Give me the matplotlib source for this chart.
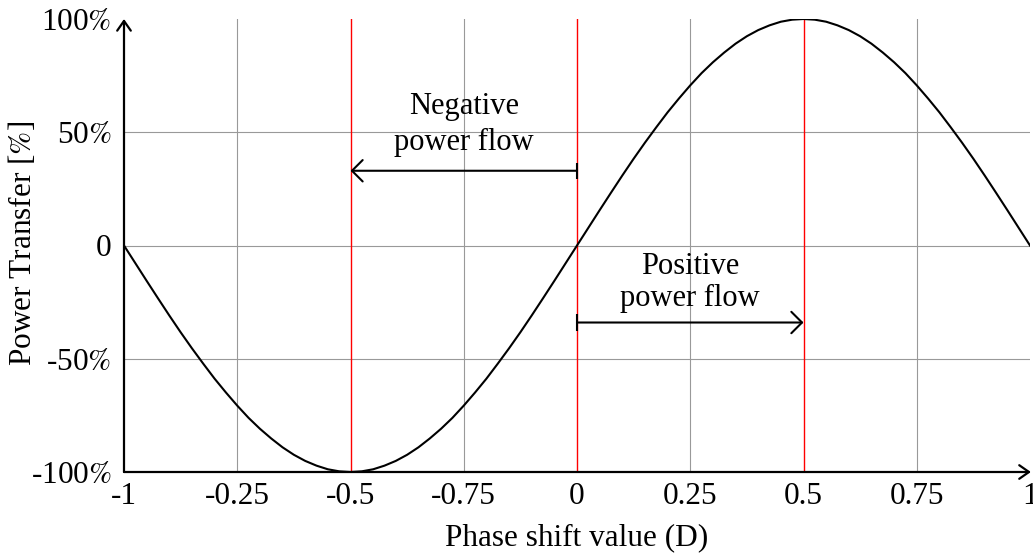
import matplotlib
matplotlib.use("Agg")
import matplotlib.pyplot as plt

plt.rcParams['font.family'] = ['Liberation Serif', 'DejaVu Serif']
plt.rcParams['mathtext.fontset'] = 'stix'

# Phase shift D (steps of 0.025) and transferred power in percent of maximum
phase_shift = [
    -1.000, -0.975, -0.950, -0.925, -0.900, -0.875, -0.850, -0.825, -0.800, -0.775,
    -0.750, -0.725, -0.700, -0.675, -0.650, -0.625, -0.600, -0.575, -0.550, -0.525,
    -0.500, -0.475, -0.450, -0.425, -0.400, -0.375, -0.350, -0.325, -0.300, -0.275,
    -0.250, -0.225, -0.200, -0.175, -0.150, -0.125, -0.100, -0.075, -0.050, -0.025,
    0.000, 0.025, 0.050, 0.075, 0.100, 0.125, 0.150, 0.175, 0.200, 0.225,
    0.250, 0.275, 0.300, 0.325, 0.350, 0.375, 0.400, 0.425, 0.450, 0.475,
    0.500, 0.525, 0.550, 0.575, 0.600, 0.625, 0.650, 0.675, 0.700, 0.725,
    0.750, 0.775, 0.800, 0.825, 0.850, 0.875, 0.900, 0.925, 0.950, 0.975, 1.000]
power_pct = [
    0.0, -7.8, -15.6, -23.3, -30.9, -38.3, -45.4, -52.2, -58.8, -64.9,
    -70.7, -76.1, -80.9, -85.2, -89.1, -92.4, -95.1, -97.2, -98.8, -99.7,
    -100.0, -99.7, -98.8, -97.2, -95.1, -92.4, -89.1, -85.2, -80.9, -76.1,
    -70.7, -64.9, -58.8, -52.2, -45.4, -38.3, -30.9, -23.3, -15.6, -7.8,
    0.0, 7.8, 15.6, 23.3, 30.9, 38.3, 45.4, 52.2, 58.8, 64.9,
    70.7, 76.1, 80.9, 85.2, 89.1, 92.4, 95.1, 97.2, 98.8, 99.7,
    100.0, 99.7, 98.8, 97.2, 95.1, 92.4, 89.1, 85.2, 80.9, 76.1,
    70.7, 64.9, 58.8, 52.2, 45.4, 38.3, 30.9, 23.3, 15.6, 7.8, 0.0]

x_ticks = [-1, -0.75, -0.5, -0.25, 0, 0.25, 0.5, 0.75, 1]
x_tick_labels = ['-1', '-0.25', '-0.5', '-0.75', '0', '0.25', '0.5', '0.75', '1']
y_ticks = [-100, -50, 0, 50, 100]
pct = r'$\mathit{\%}$'
y_tick_labels = ['-100' + pct, '-50' + pct, '0', '50' + pct, '100' + pct]

gray_grid_x = [-0.75, -0.25, 0.25, 0.75]
red_lines_x = [-0.5, 0, 0.5]
grid_y = [-50, 0, 50]

neg_arrow = {'from': 0.0, 'to': -0.5, 'level': 33}
pos_arrow = {'from': 0.0, 'to': 0.5, 'level': -34}

FS = 22.5

fig = plt.figure(figsize=(10.33, 5.53), dpi=100)
ax = fig.add_axes([124 / 1033, 81 / 553, 906 / 1033, 453 / 553])
ax.set_xlim(-1, 1)
ax.set_ylim(-100, 100)

for s in ax.spines.values():
    s.set_visible(False)

for gx in gray_grid_x:
    ax.axvline(gx, color='#999999', lw=0.8, zorder=1)
for gy in grid_y:
    ax.axhline(gy, color='#999999', lw=0.8, zorder=1)
for rx in red_lines_x:
    ax.axvline(rx, color='#ff0000', lw=1.0, zorder=2)

ax.plot(phase_shift, power_pct, color='black', lw=1.5, zorder=3,
        solid_joinstyle='round')

# Axis lines with arrow tips
arrow_kw = dict(arrowstyle='->,head_length=0.5,head_width=0.35', color='black',
                lw=1.6, shrinkA=0, shrinkB=0, mutation_scale=14)
ax.annotate('', xy=(0, 1), xytext=(0, 0), xycoords='axes fraction',
            textcoords='axes fraction', arrowprops=arrow_kw,
            annotation_clip=False, zorder=5)
ax.annotate('', xy=(1.001, 0), xytext=(0, 0), xycoords='axes fraction',
            textcoords='axes fraction', arrowprops=arrow_kw,
            annotation_clip=False, zorder=5)

ax.set_xticks(x_ticks)
ax.set_xticklabels(x_tick_labels)
ax.set_yticks(y_ticks)
ax.set_yticklabels(y_tick_labels)
ax.tick_params(axis='both', length=0, labelsize=FS)
ax.tick_params(axis='x', pad=7.5)
ax.tick_params(axis='y', pad=9)

# Axis titles
fig.text(577 / 1033, 1 - 545 / 553, 'Phase shift value (D)', fontsize=FS,
         ha='center', va='baseline')
fig.text(23 / 1033, 1 - 243 / 553, 'Power Transfer [' + pct + ']', fontsize=FS,
         ha='center', va='center', rotation=90)

# Power flow arrows with a bar at the start
flow_kw = dict(arrowstyle='->,head_length=0.55,head_width=0.55', color='black',
               lw=1.5, shrinkA=0, shrinkB=0, mutation_scale=14)
bar_half = 3.6
for arr in (neg_arrow, pos_arrow):
    ax.annotate('', xy=(arr['to'], arr['level']), xytext=(arr['from'], arr['level']),
                arrowprops=flow_kw, zorder=6)
    ax.plot([arr['from'], arr['from']], [arr['level'] - bar_half, arr['level'] + bar_half],
            color='black', lw=1.5, zorder=6, solid_capstyle='butt')

ax.text(-0.25, 58.0, 'Negative', ha='center', va='baseline', fontsize=22, zorder=6)
ax.text(-0.25, 42.0, 'power flow', ha='center', va='baseline', fontsize=22, zorder=6)
ax.text(0.25, -12.5, 'Positive', ha='center', va='baseline', fontsize=22, zorder=6)
ax.text(0.25, -26.8, 'power flow', ha='center', va='baseline', fontsize=22, zorder=6)

fig.savefig('out.png', dpi=100)
